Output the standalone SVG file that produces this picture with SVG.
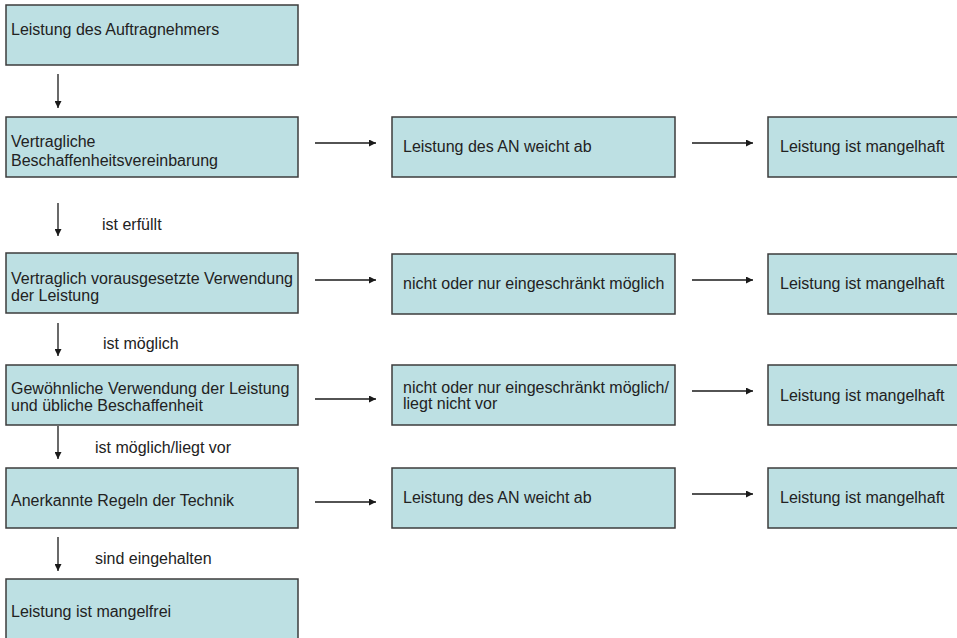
<svg xmlns="http://www.w3.org/2000/svg" width="957" height="638" viewBox="0 0 957 638">
<defs>
<style>
.box{fill:#bde0e3;stroke:#3c3c3c;stroke-width:1.5}
.t{font-family:"Liberation Sans",Arial,sans-serif;font-size:16px;fill:#222}
.c{stroke:#1a1a1a;stroke-width:1.3;fill:none;marker-end:url(#ah)}
</style>
<marker id="ah" viewBox="0 0 10 10" refX="10" refY="5" markerWidth="9" markerHeight="7" markerUnits="userSpaceOnUse" orient="auto"><path d="M0,0L10,5L0,10Z" fill="#1a1a1a"/></marker>
</defs>
<rect width="957" height="638" fill="#fff"/>
<g id="connectors">
<line class="c" x1="58" y1="74" x2="58" y2="108"/>
<line class="c" x1="58" y1="203" x2="58" y2="236"/>
<line class="c" x1="58" y1="323" x2="58" y2="356"/>
<line class="c" x1="58" y1="426" x2="58" y2="459"/>
<line class="c" x1="58" y1="537" x2="58" y2="571"/>
<line class="c" x1="315" y1="143" x2="376" y2="143"/>
<line class="c" x1="692" y1="143" x2="753" y2="143"/>
<line class="c" x1="315" y1="280" x2="376" y2="280"/>
<line class="c" x1="692" y1="280" x2="753" y2="280"/>
<line class="c" x1="315" y1="399" x2="376" y2="399"/>
<line class="c" x1="692" y1="391" x2="753" y2="391"/>
<line class="c" x1="315" y1="502" x2="376" y2="502"/>
<line class="c" x1="692" y1="494" x2="753" y2="494"/>
<text class="t" x="102" y="230">ist erfüllt</text>
<text class="t" x="103" y="349">ist möglich</text>
<text class="t" x="95" y="453">ist möglich/liegt vor</text>
<text class="t" x="95" y="564">sind eingehalten</text>
</g>
<g id="n1"><rect class="box" x="6" y="5" width="292" height="60"/><text class="t" x="11" y="35">Leistung des Auftragnehmers</text></g>
<g id="n2"><rect class="box" x="6" y="117" width="292" height="60"/><text class="t" x="11" y="147">Vertragliche</text><text class="t" x="11" y="166">Beschaffenheitsvereinbarung</text></g>
<g id="n3"><rect class="box" x="392" y="117" width="283" height="60"/><text class="t" x="403" y="152">Leistung des AN weicht ab</text></g>
<g id="n4"><rect class="box" x="768" y="117" width="195" height="60"/><text class="t" x="780" y="152">Leistung ist mangelhaft</text></g>
<g id="n5"><rect class="box" x="6" y="253" width="292" height="60"/><text class="t" x="11" y="284">Vertraglich vorausgesetzte Verwendung</text><text class="t" x="11" y="301">der Leistung</text></g>
<g id="n6"><rect class="box" x="392" y="254" width="283" height="60"/><text class="t" x="403" y="289">nicht oder nur eingeschränkt möglich</text></g>
<g id="n7"><rect class="box" x="768" y="254" width="195" height="60"/><text class="t" x="780" y="289">Leistung ist mangelhaft</text></g>
<g id="n8"><rect class="box" x="6" y="365" width="292" height="60"/><text class="t" x="11" y="394">Gewöhnliche Verwendung der Leistung</text><text class="t" x="11" y="411">und übliche Beschaffenheit</text></g>
<g id="n9"><rect class="box" x="392" y="365" width="283" height="60"/><text class="t" x="403" y="393">nicht oder nur eingeschränkt möglich/</text><text class="t" x="403" y="409">liegt nicht vor</text></g>
<g id="n10"><rect class="box" x="768" y="365" width="195" height="60"/><text class="t" x="780" y="401">Leistung ist mangelhaft</text></g>
<g id="n11"><rect class="box" x="6" y="468" width="292" height="60"/><text class="t" x="11" y="506">Anerkannte Regeln der Technik</text></g>
<g id="n12"><rect class="box" x="392" y="468" width="283" height="60"/><text class="t" x="403" y="503">Leistung des AN weicht ab</text></g>
<g id="n13"><rect class="box" x="768" y="468" width="195" height="60"/><text class="t" x="780" y="503">Leistung ist mangelhaft</text></g>
<g id="n14"><rect class="box" x="6" y="579" width="292" height="62"/><text class="t" x="11" y="617">Leistung ist mangelfrei</text></g>
</svg>
